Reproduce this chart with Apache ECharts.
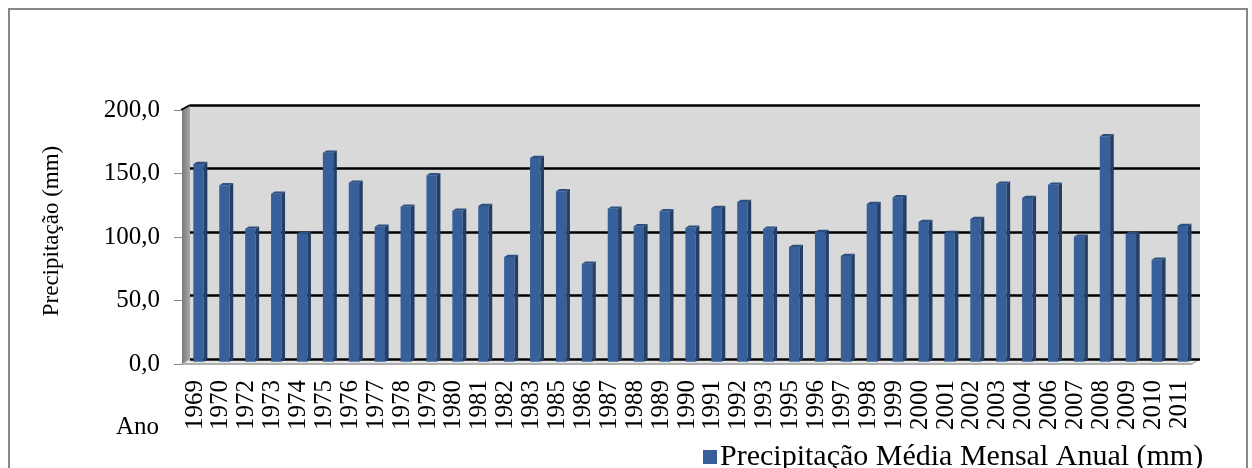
<!DOCTYPE html>
<html>
<head>
<meta charset="utf-8">
<title>Precipitação Média Mensal Anual</title>
<script src="https://cdn.jsdelivr.net/npm/echarts@6/dist/echarts.min.js"></script>
<style>
  html, body { margin: 0; padding: 0; background: #fff; }
  #chart { width: 1252px; height: 468px; }
</style>
</head>
<body>
<div id="chart"></div>
<script>
  // anos (eixo x)
  let anos = ['1969', '1970', '1972', '1973', '1974', '1975', '1976', '1977', '1978', '1979',
    '1980', '1981', '1982', '1983', '1985', '1986', '1987', '1988', '1989', '1990',
    '1991', '1992', '1993', '1995', '1996', '1997', '1998', '1999', '2000', '2001',
    '2002', '2003', '2004', '2006', '2007', '2008', '2009', '2010', '2011']
  // precipitação média mensal (mm)
  let precipitacao = [155.7, 138.9, 104.7, 132.3, 100.8, 164.6, 140.9, 106.3, 122.0, 146.8,
    118.9, 122.6, 82.4, 160.4, 134.2, 77.2, 120.5, 106.6, 118.4, 105.5,
    121.0, 125.7, 104.7, 90.3, 102.1, 83.2, 124.2, 129.4, 110.0, 101.3,
    112.4, 140.2, 128.9, 139.4, 98.4, 177.5, 100.8, 80.3, 106.9]
  // marcas do eixo y
  let yTicks = [0, 50, 100, 150, 200]
  let serieNome = 'Precipitação Média Mensal Anual (mm)'

  const FONT = '"Liberation Serif", "Times New Roman", serif'

  // coluna "3D": face frontal, lateral e topo
  function renderBar(params, api) {
    let top = api.coord([api.value(0), api.value(1)])
    let base = api.coord([api.value(0), 0])
    let band = api.size([1, 0])[0]
    let w = band * 0.40          // largura da face
    let d = band * 0.14          // profundidade
    let dy = d * 0.62
    let x = top[0] - band * 0.17 - w / 2
    let yTop = top[1] + 2.7
    let yBot = base[1] + 2.7
    return {
      type: 'group',
      children: [
        {
          type: 'rect',
          shape: { x: x, y: yTop, width: w, height: yBot - yTop },
          style: { fill: '#37609a' }
        },
        {
          type: 'polygon',
          shape: { points: [[x + w, yTop], [x + w + d, yTop - dy], [x + w + d, yBot - dy], [x + w, yBot]] },
          style: { fill: '#233f66' }
        },
        {
          type: 'polygon',
          shape: { points: [[x, yTop], [x + d, yTop - dy], [x + w + d, yTop - dy], [x + w, yTop]] },
          style: { fill: '#2c5080' }
        }
      ]
    }
  }

  let chart = echarts.init(document.getElementById('chart'))
  let option = {
    animation: false,
    textStyle: { fontFamily: FONT },
    grid: [
      // parede do fundo
      { left: 190, right: 52, top: 105, bottom: 109, show: true, backgroundColor: '#d9d9d9', borderWidth: 0 },
      // plano da frente (eixos com rótulos)
      { left: 182, right: 60, top: 110, bottom: 104 }
    ],
    legend: {
      left: 698, top: 437,
      icon: 'rect', itemWidth: 14, itemHeight: 14, itemGap: 4,
      textStyle: { fontFamily: FONT, fontSize: 30, color: '#000', padding: [0, 0, 0, -2] },
      data: [serieNome]
    },
    xAxis: [
      { type: 'category', gridIndex: 0, data: anos, show: false },
      {
        type: 'category', gridIndex: 1, data: anos,
        axisLine: { lineStyle: { color: '#a6a6a6', width: 1.5 } },
        axisTick: { length: 8, lineStyle: { color: '#9a9a9a' } },
        axisLabel: { rotate: 90, margin: 16, fontSize: 25, color: '#000', fontFamily: FONT, interval: 0 }
      }
    ],
    yAxis: [
      {
        type: 'value', gridIndex: 0, min: yTicks[0], max: yTicks[yTicks.length - 1], interval: 50,
        axisLabel: { show: false }, axisTick: { show: false }, axisLine: { show: false },
        splitLine: { lineStyle: { color: '#000', width: 2.5 } }
      },
      {
        type: 'value', gridIndex: 1, min: yTicks[0], max: yTicks[yTicks.length - 1], interval: 50,
        name: 'Precipitação (mm)', nameLocation: 'middle', nameGap: 119,
        nameTextStyle: { fontFamily: FONT, fontSize: 23, color: '#000', padding: [0, 0, 0, 12] },
        axisLine: { show: false },
        axisTick: { show: true, length: 8, lineStyle: { color: '#8a8a8a' } },
        splitLine: { show: false },
        axisLabel: {
          margin: 22, fontSize: 25, color: '#000', fontFamily: FONT, padding: [2, 0, 0, 0],
          formatter: v => v.toFixed(1).replace('.', ',')
        }
      }
    ],
    graphic: [
      // parede lateral
      {
        type: 'polygon', z: -1,
        shape: { points: [[182, 110], [190, 105], [190, 359], [182, 364]] },
        style: {
          fill: new echarts.graphic.LinearGradient(0, 0, 1, 0, [
            { offset: 0, color: '#7a7a7a' }, { offset: 1, color: '#a8a8a8' }
          ])
        }
      },
      // piso
      {
        type: 'polygon', z: -1,
        shape: { points: [[182, 364], [1192, 364], [1200, 359], [190, 359]] },
        style: { fill: '#e4e4e4', stroke: '#a6a6a6', lineWidth: 1 }
      },
      { type: 'line', shape: { x1: 181, y1: 110, x2: 190, y2: 105 }, style: { stroke: '#000', lineWidth: 2 } },
      // moldura
      {
        type: 'rect', z: -2,
        shape: { x: 9, y: 9, width: 1238, height: 472 },
        style: { fill: 'none', stroke: '#868686', lineWidth: 2 }
      },
      {
        type: 'text', left: 116, top: 415,
        style: { text: 'Ano', font: '25px ' + FONT, fill: '#000' }
      }
    ],
    series: [
      {
        name: serieNome,
        type: 'custom',
        xAxisIndex: 0, yAxisIndex: 0,
        itemStyle: { color: '#37609a' },
        renderItem: renderBar,
        encode: { x: 0, y: 1 },
        data: precipitacao.map((v, i) => [i, v])
      }
    ]
  }
  chart.setOption(option)
</script>
</body>
</html>
